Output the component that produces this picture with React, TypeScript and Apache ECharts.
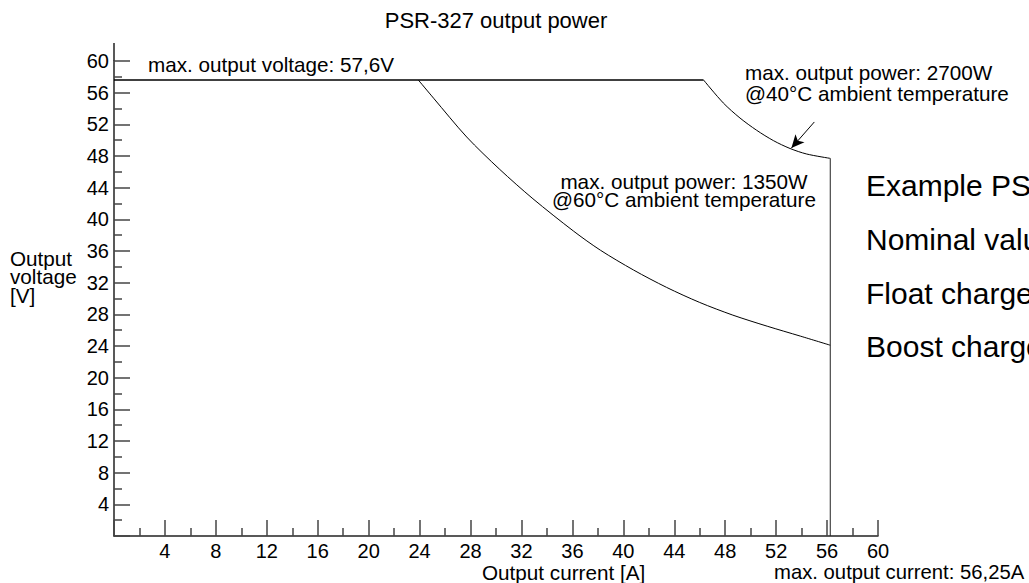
import React, { useEffect, useRef } from "react";
import * as echarts from "echarts";

// ---- data ----
const limitCurrent = [0, 46.3];
const limitVoltage = [57.6, 57.6];

const current40 = [46.3, 47.85, 49.16, 50.47, 51.78, 53.09, 54.4, 56.25];
const voltage40 = [57.6, 54.7, 52.8, 51.25, 49.95, 48.95, 48.25, 47.7];

const current60 = [23.9, 25.1, 27.7, 30.3, 32.9, 36.1, 38.2, 40.8, 43.4, 46.0, 48.6, 51.3, 53.9, 56.25];
const voltage60 = [57.6, 55.3, 50.4, 46.3, 42.6, 38.5, 36.1, 33.6, 31.4, 29.5, 27.9, 26.5, 25.25, 24.1];

const maxCurrentX = [56.25, 56.25];
const maxCurrentY = [47.7, 0];

const arrowFrom = [55.0, 52.3];
const arrowTo = [53.2, 49.0];

const xMin = 0, xMax = 60, xStep = 4;
const yMin = 0, yMax = 60, yStep = 4;

const FONT = '"Liberation Sans", Arial, Helvetica, sans-serif';

const pairs = (xs: number[], ys: number[]) => xs.map((x, i) => [x, ys[i]]);

const txt = (text: string, x: number, y: number, size: number, align = "left", lineHeight?: number) => ({
  type: "text",
  x,
  y,
  silent: true,
  style: {
    text,
    fill: "#000",
    font: `${size}px ${FONT}`,
    textAlign: align,
    textVerticalAlign: "middle",
    ...(lineHeight ? { lineHeight } : {}),
  },
});

export default function App() {
  const ref = useRef<HTMLDivElement>(null);

  useEffect(() => {
    document.body.style.margin = "0";
    const chart = echarts.init(ref.current!, null, { renderer: "svg" });

    const axisCommon = {
      type: "value",
      splitLine: { show: false },
      minorSplitLine: { show: false },
      axisLine: { show: true, onZero: false, lineStyle: { color: "#222", width: 1.5 } },
      axisTick: { show: true, inside: true, length: 16, lineStyle: { color: "#444", width: 1.5 } },
      minorTick: { show: true, splitNumber: 2, length: 8, lineStyle: { color: "#444", width: 1.5 } },
    };

    const lineSeries = (data: number[][], extra: any = {}) => ({
      type: "line",
      data,
      showSymbol: false,
      symbol: "none",
      silent: true,
      lineStyle: { color: "#000", width: 1 },
      ...extra,
    });

    chart.setOption({
      animation: false,
      title: {
        text: "PSR-327 output power",
        left: 496,
        top: 9,
        textAlign: "center",
        padding: 0,
        textStyle: { fontFamily: FONT, fontSize: 22, fontWeight: "normal", color: "#000" },
      },
      grid: { left: 114, right: 151, top: 61, bottom: 47 },
      xAxis: {
        ...axisCommon,
        min: xMin,
        max: xMax,
        interval: xStep,
        axisLabel: {
          fontFamily: FONT,
          fontSize: 20,
          color: "#000",
          margin: 5,
          formatter: (v: number) => (v === 0 ? "" : String(v)),
        },
      },
      yAxis: {
        ...axisCommon,
        min: yMin,
        max: yMax,
        interval: yStep,
        axisLabel: {
          fontFamily: FONT,
          fontSize: 20,
          color: "#000",
          margin: 5,
          formatter: (v: number) => (v === 0 ? "" : String(v)),
        },
      },
      series: [
        lineSeries(pairs(limitCurrent, limitVoltage), { lineStyle: { color: "#000", width: 1.5 } }),
        lineSeries(pairs(current40, voltage40), {
          smooth: 0.3,
          markLine: {
            silent: true,
            symbol: ["none", "arrow"],
            symbolSize: [9, 13],
            label: { show: false },
            lineStyle: { color: "#000", width: 1, type: "solid" },
            data: [[{ coord: arrowFrom }, { coord: arrowTo }]],
          },
        }),
        lineSeries(pairs(current60, voltage60), { smooth: 0.3 }),
        lineSeries(pairs(maxCurrentX, maxCurrentY), { lineStyle: { color: "#222", width: 1 } }),
      ],
      graphic: [
        { type: "line", silent: true, shape: { x1: 114, y1: 43, x2: 114, y2: 61 }, style: { stroke: "#222", lineWidth: 1.5 } },
        txt("max. output voltage: 57,6V", 148, 64, 20.7),
        txt("max. output power: 2700W\n@40°C ambient temperature", 745, 82.5, 20.7, "left", 21),
        txt("max. output power: 1350W\n@60°C ambient temperature", 684, 190, 20.7, "center", 18),
        txt("Output\nvoltage\n[V]", 10, 276.5, 20.7, "left", 18.5),
        txt("Output current [A]", 482, 572, 20.7),
        txt("max. output current: 56,25A", 774, 572, 20.3),
        txt("Example PSR-327", 866, 185, 30),
        txt("Nominal value", 866, 239, 30),
        txt("Float charge", 866, 293, 30),
        txt("Boost charge", 866, 346, 30),
      ],
    });

    return () => chart.dispose();
  }, []);

  return <div ref={ref} style={{ width: 1029, height: 583 }} />;
}
